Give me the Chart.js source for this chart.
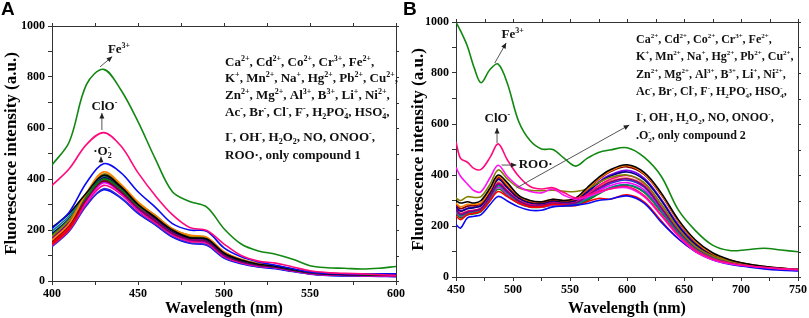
<!DOCTYPE html>
<html>
<head>
<meta charset="utf-8">
<script src="https://cdn.jsdelivr.net/npm/chart.js@4.4.1/dist/chart.umd.min.js"></script>
<style>
  html, body { margin: 0; padding: 0; background: #fff; }
  body { width: 809px; height: 318px; position: relative; overflow: hidden; }
  .panel { position: absolute; top: 0; height: 318px; }
  #wrapA { left: 0; width: 410px; }
  #wrapB { left: 400px; width: 409px; }
</style>
</head>
<body>
<div class="panel" id="wrapA"><canvas id="ChartA" width="410" height="318"></canvas></div>
<div class="panel" id="wrapB"><canvas id="ChartB" width="409" height="318"></canvas></div>
<script>
// ---- Panel A data (compound 1), wavelength in nm ----
const wl_a = [400,410,420,430,440,450,460,470,480,490,500,510,520,530,540,550,560,570,580,590,600];
const a_fe      = [455,545,770,830,750,625,480,350,312,290,205,145,118,105,85,60,52,50,47,50,57];
const a_clo     = [375,440,535,582,530,425,335,260,210,198,145,100,78,70,55,40,33,30,28,25,22];
const a_o2      = [205,270,385,460,425,350,290,225,200,195,130,95,75,62,48,35,30,28,27,28,28];
const a_black   = [210,265,345,415,370,300,250,200,170,165,110,82,66,58,45,34,28,26,25,24,24];
const a_red     = [150,215,330,410,365,295,245,192,168,160,105,78,64,57,44,33,28,26,25,25,25];
const a_olive   = [175,240,340,420,375,305,255,200,175,168,112,83,67,60,46,35,29,27,26,25,25];
const a_orange  = [160,225,345,428,380,310,258,205,180,172,115,85,68,60,47,35,30,28,27,26,26];
const a_navy    = [185,245,335,405,362,298,248,196,170,162,108,80,65,57,44,34,28,26,25,24,24];
const a_purple  = [170,230,325,398,355,290,240,190,166,158,104,78,63,56,43,33,27,25,24,23,23];
const a_wine    = [155,220,320,392,350,287,237,188,164,156,102,77,62,55,42,32,27,25,24,23,22];
const a_cyan    = [195,255,340,412,372,305,258,205,178,170,113,84,68,60,47,35,30,27,26,25,25];
const a_magenta = [148,210,310,385,345,280,232,183,158,150,98,74,60,53,40,30,25,23,22,21,20];
const a_pink    = [140,200,305,375,340,276,228,180,155,148,96,72,58,52,39,29,24,22,21,20,19];
const a_royal   = [135,195,295,362,328,268,222,175,150,142,92,70,56,50,38,28,23,21,20,19,18];
const a_green   = [180,240,330,400,360,296,250,200,175,165,110,82,66,58,45,34,29,27,26,25,25];
const a_violet  = [165,230,325,390,350,285,236,187,162,154,101,76,61,54,41,31,26,24,23,22,21];
const a_red2    = [145,205,318,395,352,284,234,185,160,152,100,75,61,54,41,31,26,24,23,22,21];
const a_blue2   = [138,198,298,358,325,265,220,172,148,140,90,68,55,48,37,27,22,20,19,18,17];

// ---- Panel B data (compound 2) ----
const wl_b = [450,454,460,466,472,480,487,495,505,515,525,535,545,555,565,575,585,600,615,630,645,660,675,690,705,720,735,750];
const b_fe      = [1000,965,905,820,762,815,835,760,610,535,502,500,465,435,465,488,498,507,470,395,263,182,125,104,107,113,106,99];
const b_clo     = [530,465,450,425,422,470,522,460,395,355,345,350,330,310,320,335,345,355,320,245,165,105,72,55,45,38,33,30];
const b_roo     = [430,395,365,338,335,390,438,395,355,335,330,345,320,305,315,330,345,350,315,240,160,100,68,52,43,37,32,28];
const b_blue    = [205,192,232,238,245,285,316,298,275,262,262,275,278,282,288,300,305,318,290,215,150,100,68,50,40,32,27,24];
const b_red     = [240,225,245,250,258,300,335,315,290,275,275,285,282,280,295,308,305,322,295,220,150,100,70,52,42,35,30,28];
const b_olive   = [310,300,315,312,315,365,420,385,350,340,338,340,336,335,345,370,390,400,370,285,190,120,82,62,50,41,34,30];
const b_black   = [300,290,295,290,300,350,400,370,320,300,295,305,300,310,350,390,420,440,410,330,225,145,95,68,52,42,35,30];
const b_orange  = [290,275,285,285,292,342,395,362,318,298,295,305,300,308,345,385,415,437,405,325,220,140,92,67,51,41,34,29];
const b_wine    = [285,268,278,280,288,338,390,358,315,295,292,302,298,305,342,382,412,432,402,322,218,138,90,65,50,40,33,28];
const b_navy    = [275,258,268,272,280,330,382,350,308,290,288,298,294,300,332,368,395,412,382,300,200,128,85,63,49,40,33,28];
const b_purple  = [265,245,255,260,268,316,365,335,298,280,280,290,286,290,318,348,372,385,356,272,183,117,80,60,47,38,32,27];
const b_cyan    = [260,240,250,255,262,310,358,330,292,276,276,285,283,285,305,330,350,362,335,258,175,113,78,58,46,38,31,27];
const b_magenta = [255,238,248,252,260,305,352,325,290,275,275,283,282,285,310,338,358,370,342,262,178,114,78,58,46,37,31,26];
const b_pink    = [268,248,258,262,270,318,368,338,300,284,284,294,290,296,325,358,382,398,368,285,192,122,82,61,48,39,32,27];
const b_green   = [250,232,243,248,256,300,345,320,288,274,274,282,280,282,300,325,348,360,332,255,172,110,76,57,45,37,31,27];
const b_violet  = [278,260,270,274,282,332,385,352,310,292,290,300,296,302,335,372,400,418,388,305,205,130,86,64,49,40,33,28];
const b_royal   = [262,242,252,257,265,312,362,332,296,279,279,288,285,288,312,342,366,380,352,268,181,116,79,59,47,38,32,27];
const b_coral   = [270,250,258,262,270,320,372,340,300,282,282,292,288,292,320,352,375,388,360,275,185,118,80,60,48,39,32,28];

// tick labels
const y_ticks = [0, 200, 400, 600, 800, 1000];

// legend text blocks
const ions_common = [
  'Ca^{2+}, Cd^{2+}, Co^{2+}, Cr^{3+}, Fe^{2+},',
  'K^{+}, Mn^{2+}, Na^{+}, Hg^{2+}, Pb^{2+}, Cu^{2+},',
  'Zn^{2+}, Mg^{2+}, Al^{3+}, B^{3+}, Li^{+}, Ni^{2+},',
  'Ac^{-}, Br^{-}, Cl^{-}, F^{-}, H_{2}PO_{4}^{-}, HSO_{4}^{-},',
  'I^{-}, OH^{-}, H_{2}O_{2}, NO, ONOO^{-},'
];
const text_a = ions_common.concat(['ROO·, only compound 1']);
const text_b = ions_common.concat(['.O_{2}^{-}, only compound 2']);

(function () {
  "use strict";

  const SERIF = '"Liberation Serif", "Times New Roman", serif';

  // draws "Ca^{2+}" / "H_{2}O" style strings
  function richText(ctx, str, x, y, size) {
    const parts = str.split(/(\^\{[^}]*\}|_\{[^}]*\})/).filter(function (p) { return p.length; });
    const small = Math.round(size * 0.62);
    let subStart = null;
    ctx.textBaseline = 'alphabetic';
    ctx.textAlign = 'left';
    ctx.fillStyle = '#111';
    parts.forEach(function (p) {
      if (p.indexOf('^{') === 0) {
        const s = p.slice(2, -1);
        ctx.font = 'bold ' + small + 'px ' + SERIF;
        const sx = subStart !== null ? subStart : x;
        ctx.fillText(s, sx, y - size * 0.4);
        x = Math.max(x, sx + ctx.measureText(s).width);
        subStart = null;
      } else if (p.indexOf('_{') === 0) {
        const s = p.slice(2, -1);
        ctx.font = 'bold ' + small + 'px ' + SERIF;
        subStart = x;
        ctx.fillText(s, x, y + size * 0.22);
        x += ctx.measureText(s).width;
      } else {
        ctx.font = 'bold ' + size + 'px ' + SERIF;
        ctx.fillText(p, x, y);
        x += ctx.measureText(p).width;
        subStart = null;
      }
    });
  }

  function arrow(ctx, x1, y1, x2, y2) {
    const ang = Math.atan2(y2 - y1, x2 - x1);
    ctx.strokeStyle = '#555';
    ctx.lineWidth = 1;
    ctx.beginPath();
    ctx.moveTo(x1, y1);
    ctx.lineTo(x2, y2);
    ctx.stroke();
    ctx.fillStyle = '#222';
    ctx.beginPath();
    ctx.moveTo(x2, y2);
    ctx.lineTo(x2 - 5.5 * Math.cos(ang) + 2.5 * Math.sin(ang), y2 - 5.5 * Math.sin(ang) - 2.5 * Math.cos(ang));
    ctx.lineTo(x2 - 5.5 * Math.cos(ang) - 2.5 * Math.sin(ang), y2 - 5.5 * Math.sin(ang) + 2.5 * Math.cos(ang));
    ctx.closePath();
    ctx.fill();
  }

  // frame, mirrored ticks, labels and arrows
  const panelDeco = {
    id: 'panelDeco',
    afterDraw: function (chart, args, opts) {
      const ctx = chart.ctx, area = chart.chartArea;
      const xs = chart.scales.x, ys = chart.scales.y;
      ctx.save();
      ctx.strokeStyle = '#333';
      ctx.lineWidth = 1;
      ctx.beginPath();
      ctx.moveTo(area.left, area.top + 0.5);
      ctx.lineTo(area.right + 0.5, area.top + 0.5);
      ctx.lineTo(area.right + 0.5, area.bottom);
      xs.ticks.forEach(function (t) {
        const p = Math.round(xs.getPixelForValue(t.value)) + 0.5;
        ctx.moveTo(p, area.top);
        ctx.lineTo(p, area.top - 3);
      });
      ys.ticks.forEach(function (t) {
        const p = Math.round(ys.getPixelForValue(t.value)) + 0.5;
        ctx.moveTo(area.right, p);
        ctx.lineTo(area.right + 3, p);
      });
      ctx.stroke();

      opts.arrows.forEach(function (a) {
        arrow(ctx, xs.getPixelForValue(a[0]), ys.getPixelForValue(a[1]),
                   xs.getPixelForValue(a[2]), ys.getPixelForValue(a[3]));
      });
      opts.labels.forEach(function (l) {
        richText(ctx, l.t, xs.getPixelForValue(l.x), ys.getPixelForValue(l.y), 13);
      });
      opts.block.lines.forEach(function (s, i) {
        richText(ctx, s, area.left + opts.block.dx, area.top + opts.block.dy[i], opts.block.size);
      });

      ctx.fillStyle = '#000';
      ctx.font = 'bold 19px "Liberation Sans", Arial, sans-serif';
      ctx.textAlign = 'left';
      ctx.fillText(opts.letter, opts.letterX, 15);
      ctx.restore();
    }
  };

  function line(wl, data, color) {
    return {
      data: wl.map(function (x, i) { return { x: x, y: data[i] }; }),
      borderColor: color,
      borderWidth: 1.6,
      pointRadius: 0,
      fill: false,
      tension: 0.35
    };
  }

  function makeOptions(xmin, xmax, yAxisW, xAxisH, pad, deco) {
    const tickFont = { family: SERIF, size: 12, weight: 'bold' };
    return {
      responsive: false,
      animation: false,
      layout: { padding: pad },
      scales: {
        x: {
          type: 'linear',
          min: xmin,
          max: xmax,
          afterFit: function (s) { s.height = xAxisH; },
          grid: { drawOnChartArea: false, tickLength: 4, color: '#333' },
          border: { display: true, color: '#333', width: 1 },
          ticks: {
            stepSize: 25, autoSkip: false, maxRotation: 0, padding: 2, color: '#000', font: tickFont,
            callback: function (v) { return v % 50 === 0 ? v : ''; }
          },
          title: {
            display: true, text: 'Wavelength (nm)', color: '#000',
            font: { family: SERIF, size: 16, weight: 'bold' }, padding: { top: 0, bottom: 0 }
          }
        },
        y: {
          min: 0,
          max: 1000,
          afterFit: function (s) { s.width = yAxisW; },
          grid: { drawOnChartArea: false, tickLength: 4, color: '#333' },
          border: { display: true, color: '#333', width: 1 },
          ticks: {
            stepSize: 100, autoSkip: false, padding: 3, color: '#000', font: tickFont,
            callback: function (v) { return y_ticks.indexOf(v) >= 0 ? v : ''; }
          },
          title: {
            display: true, text: 'Fluorescence intensity (a.u.)', color: '#000',
            font: { family: SERIF, size: 17, weight: 'bold' }, padding: { top: 1, bottom: 0 }
          }
        }
      },
      plugins: {
        legend: { display: false },
        tooltip: { enabled: false },
        panelDeco: deco
      }
    };
  }

  // Panel A
  const chart_a = document.getElementById('ChartA');
  if (chart_a != null) {
    new Chart(chart_a.getContext('2d'), {
      type: 'line',
      data: {
        datasets: [
          line(wl_a, a_fe, '#118811'),
          line(wl_a, a_clo, '#FF0A7E'),
          line(wl_a, a_o2, '#0A0AF5'),
          line(wl_a, a_black, '#000000'),
          line(wl_a, a_orange, '#FF8000'),
          line(wl_a, a_olive, '#808000'),
          line(wl_a, a_cyan, '#008080'),
          line(wl_a, a_green, '#008000'),
          line(wl_a, a_navy, '#000080'),
          line(wl_a, a_purple, '#800080'),
          line(wl_a, a_wine, '#800000'),
          line(wl_a, a_violet, '#8000FF'),
          line(wl_a, a_red, '#FF0000'),
          line(wl_a, a_red2, '#E00000'),
          line(wl_a, a_magenta, '#FF00FF'),
          line(wl_a, a_pink, '#FF0080'),
          line(wl_a, a_royal, '#3030D0'),
          line(wl_a, a_blue2, '#0000FF')
        ]
      },
      options: makeOptions(400, 600, 52, 37, { top: 26, right: 14, left: 0, bottom: 0 }, {
        letter: 'A', letterX: 1,
        labels: [
          { t: 'Fe^{3+}', x: 432.5, y: 893 },
          { t: 'ClO^{-}', x: 423, y: 670 },
          { t: '·O_{2}^{-}', x: 424, y: 494 }
        ],
        arrows: [[428, 840, 435, 880], [429, 592, 429, 659], [428.5, 463, 428.5, 487]],
        block: { lines: text_a, dx: 173, dy: [40, 56, 73, 90, 115, 133], size: 13 }
      }),
      plugins: [panelDeco]
    });
  }

  // Panel B
  const chart_b = document.getElementById('ChartB');
  if (chart_b != null) {
    new Chart(chart_b.getContext('2d'), {
      type: 'line',
      data: {
        datasets: [
          line(wl_b, b_fe, '#118811'),
          line(wl_b, b_clo, '#FF0A7E'),
          line(wl_b, b_roo, '#FF10F0'),
          line(wl_b, b_blue, '#0A0AF5'),
          line(wl_b, b_red, '#FF0000'),
          line(wl_b, b_black, '#000000'),
          line(wl_b, b_orange, '#FF8000'),
          line(wl_b, b_olive, '#808000'),
          line(wl_b, b_wine, '#800000'),
          line(wl_b, b_navy, '#000080'),
          line(wl_b, b_purple, '#800080'),
          line(wl_b, b_cyan, '#008080'),
          line(wl_b, b_magenta, '#FF00FF'),
          line(wl_b, b_pink, '#FF0080'),
          line(wl_b, b_green, '#008000'),
          line(wl_b, b_violet, '#8000FF'),
          line(wl_b, b_royal, '#3030D0'),
          line(wl_b, b_coral, '#FF6040')
        ]
      },
      options: makeOptions(450, 750, 49, 41, { top: 22, right: 8, left: 7, bottom: 0 }, {
        letter: 'B', letterX: 3,
        labels: [
          { t: 'Fe^{3+}', x: 490, y: 937 },
          { t: 'ClO^{-}', x: 475, y: 608 },
          { t: 'ROO·', x: 505, y: 427 }
        ],
        arrows: [[484, 839, 494, 918], [486, 525, 486, 584], [490, 439, 503, 439], [503, 349, 602, 596]],
        block: { lines: text_b, dx: 180, dy: [21, 38, 56, 73, 99, 117], size: 12 }
      }),
      plugins: [panelDeco]
    });
  }
})();
</script>
</body>
</html>
